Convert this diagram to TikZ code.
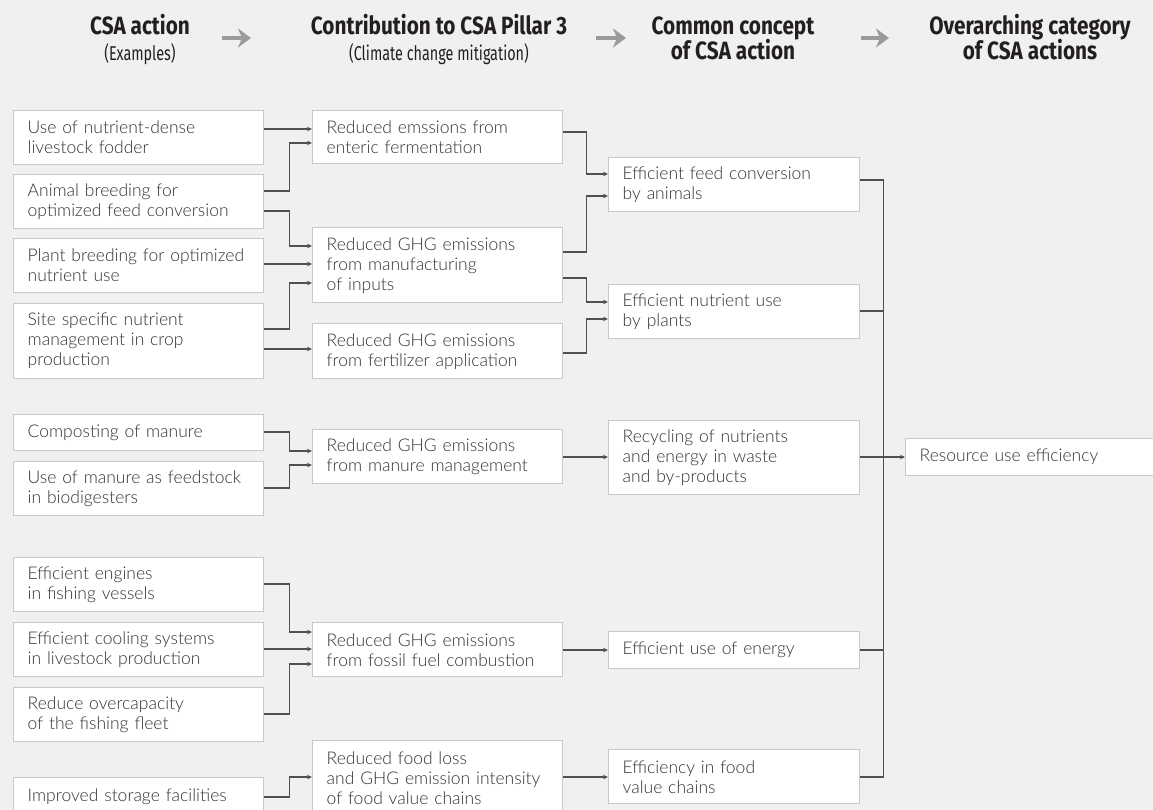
\documentclass[tikz,border=0pt]{standalone}
\usepackage{fontspec}
\setmainfont{Lato Light}
\newfontfamily\hdrfont{Fira Sans}[FakeStretch=0.83]
\newfontfamily\hsubfont{Fira Sans}[FakeStretch=0.72]
\usetikzlibrary{arrows.meta,calc}
\definecolor{bg}{HTML}{F0F0F0}
\definecolor{bord}{HTML}{C8C8C8}
\definecolor{ln}{HTML}{505050}
\definecolor{txt}{HTML}{333333}
\definecolor{harr}{HTML}{9B9B9B}
\definecolor{htxt}{HTML}{231F20}
\begin{document}
\begin{tikzpicture}[x=1pt,y=-1pt,
 box/.style={draw=bord, line width=1.4pt, fill=white, anchor=north west,
   minimum width=250pt, text width=222pt, inner xsep=14pt, inner ysep=0pt,
   align=left, font=\fontsize{17.5}{20}\selectfont, text=txt},
 wbox/.style={box, minimum width=251pt, text width=223pt},
 rbox/.style={box, minimum width=262pt, text width=234pt},
 conn/.style={draw=ln, line width=1.2pt, -{Stealth[length=5pt,width=4.5pt]}},
 bus/.style={draw=ln, line width=1.2pt},
 hdr/.style={anchor=base, inner sep=0pt, text=htxt, font=\hdrfont\fontsize{25}{28}\selectfont\bfseries},
 hsub/.style={anchor=base, inner sep=0pt, text=htxt, font=\hsubfont\fontsize{20}{22}\selectfont},
 harrow/.style={draw=harr, line width=3.5pt, -{Stealth[length=13pt,width=19pt,inset=4pt]}}]
\fill[bg] (0,0) rectangle (1153,810);
\useasboundingbox (0,0) rectangle (1153,810);

% headers
\node[hdr] (h1a) at (140,35) {CSA action};
\node[hsub] (h1b) at (140,61) {(Examples)};
\node[hdr] (h2a) at (439,35) {Contribution to CSA Pillar 3};
\node[hsub] (h2b) at (439,61) {(Climate change mitigation)};
\node[hdr] (h3a) at (733,35) {Common concept};
\node[hdr] (h3b) at (733,60) {of CSA action};
\node[hdr] (h4a) at (1030,35) {Overarching category};
\node[hdr] (h4b) at (1030,60) {of CSA actions};
\coordinate (ar1a) at (222,38); \coordinate (ar1b) at (251,38);
\coordinate (ar2a) at (596,38); \coordinate (ar2b) at (626,38);
\coordinate (ar3a) at (861,38); \coordinate (ar3b) at (889,38);
\draw[harrow] (ar1a) -- (ar1b);
\draw[harrow] (ar2a) -- (ar2b);
\draw[harrow] (ar3a) -- (ar3b);

% column 1
\node[box,minimum height=54pt] (A1) at (13,110) {Use of nutrient-dense\\livestock fodder};
\node[box,minimum height=54pt] (A2) at (13,174) {Animal breeding for\\optimized feed conversion};
\node[box,minimum height=54pt] (A3) at (13,238) {Plant breeding for optimized\\nutrient use};
\node[box,minimum height=75pt] (A4) at (13,303) {Site specific nutrient\\management in crop\\production};
\node[box,minimum height=36pt] (A5) at (13,414) {Composting of manure};
\node[box,minimum height=54pt] (A6) at (13,461) {Use of manure as feedstock\\in biodigesters};
\node[box,minimum height=54pt] (A7) at (13,557) {Efficient engines\\in fishing vessels};
\node[box,minimum height=54pt] (A8) at (13,622) {Efficient cooling systems\\in livestock production};
\node[box,minimum height=54pt] (A9) at (13,687) {Reduce overcapacity\\of the fishing fleet};
\node[box,minimum height=38pt] (A10) at (13,777) {Improved storage facilities};

% column 2
\node[box,minimum height=53pt] (B1) at (312,110) {Reduced emssions from\\enteric fermentation};
\node[box,minimum height=75pt] (B2) at (312,227) {Reduced GHG emissions\\from manufacturing\\of inputs};
\node[box,minimum height=55pt] (B3) at (312,323) {Reduced GHG emissions\\from fertilizer application};
\node[box,minimum height=54pt] (B4) at (312,429) {Reduced GHG emissions\\from manure management};
\node[box,minimum height=54pt] (B5) at (312,622) {Reduced GHG emissions\\from fossil fuel combustion};
\node[box,minimum height=75pt] (B6) at (312,740) {Reduced food loss\\and GHG emission intensity\\of food value chains};

% column 3
\node[wbox,minimum height=54pt] (C1) at (608,157) {Efficient feed conversion\\by animals};
\node[wbox,minimum height=54pt] (C2) at (608,284) {Efficient nutrient use\\by plants};
\node[wbox,minimum height=74pt] (C3) at (608,420) {Recycling of nutrients\\and energy in waste\\and by-products};
\node[wbox,minimum height=37pt] (C4) at (608,631) {Efficient use of energy};
\node[wbox,minimum height=54pt] (C5) at (608,749) {Efficiency in food\\value chains};

% column 4
\node[rbox,minimum height=37pt] (D) at (905,438) {Resource use efficiency};

% col1 -> col2
\draw[conn] ([yshift=-19pt]A1.north east) -- ([yshift=-19pt]B1.north west);
\draw[conn] ([yshift=-17pt]A2.north east) -- ++(25,0) |- ([yshift=-33pt]B1.north west);
\draw[conn] ([yshift=-37pt]A2.north east) -- ++(25,0) |- ([yshift=-19pt]B2.north west);
\draw[conn] ([yshift=-26pt]A3.north east) -- ([yshift=-37pt]B2.north west);
\draw[conn] ([yshift=-26pt]A4.north east) -- ++(25,0) |- ([yshift=-56pt]B2.north west);
\draw[conn] ([yshift=-46pt]A4.north east) -- ([yshift=-26pt]B3.north west);
\draw[conn] ([yshift=-18pt]A5.north east) -- ++(25,0) |- ([yshift=-22pt]B4.north west);
\draw[conn] ([yshift=-27pt]A6.north east) -- ++(25,0) |- ([yshift=-36pt]B4.north west);
\draw[conn] ([yshift=-27pt]A7.north east) -- ++(25,0) |- ([yshift=-10pt]B5.north west);
\draw[conn] ([yshift=-27pt]A8.north east) -- ([yshift=-27pt]B5.north west);
\draw[conn] ([yshift=-27pt]A9.north east) -- ++(25,0) |- ([yshift=-42pt]B5.north west);
\draw[conn] ([yshift=-20pt]A10.north east) -- ++(25,0) |- ([yshift=-37pt]B6.north west);

% col2 -> col3
\draw[conn] ([yshift=-22pt]B1.north east) -- ++(23,0) |- ([yshift=-17pt]C1.north west);
\draw[conn] ([yshift=-25pt]B2.north east) -- ++(23,0) |- ([yshift=-39pt]C1.north west);
\draw[conn] ([yshift=-51pt]B2.north east) -- ++(23,0) |- ([yshift=-18pt]C2.north west);
\draw[conn] ([yshift=-30pt]B3.north east) -- ++(23,0) |- ([yshift=-35pt]C2.north west);
\draw[conn] ([yshift=-28pt]B4.north east) -- ([yshift=-37pt]C3.north west);
\draw[conn] ([yshift=-28pt]B5.north east) -- ([yshift=-19pt]C4.north west);
\draw[conn] ([yshift=-37pt]B6.north east) -- ([yshift=-28pt]C5.north west);

% col3 -> col4
\draw[bus] ([yshift=-23pt]C1.north east) -- ++(23,0) |- ([yshift=-28pt]C5.north east);
\draw[bus] ([yshift=-27pt]C2.north east) -- ++(23,0);
\draw[bus] ([yshift=-19pt]C4.north east) -- ++(23,0);
\draw[conn] ([yshift=-37pt]C3.north east) -- ([yshift=-19pt]D.north west);
\end{tikzpicture}
\end{document}
